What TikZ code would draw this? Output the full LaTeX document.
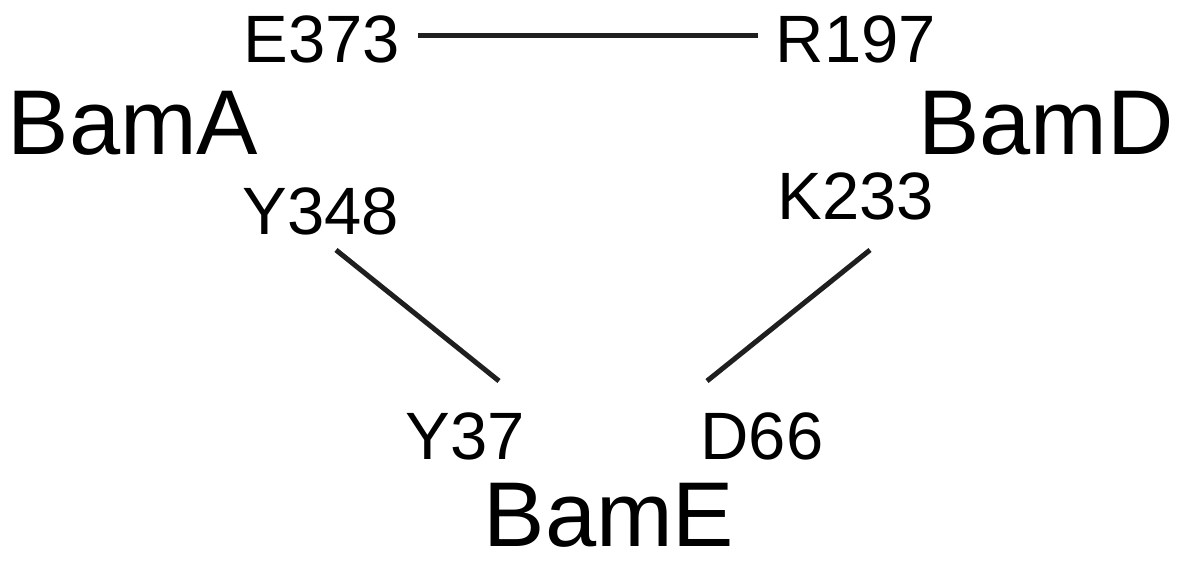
\documentclass[tikz,border=0pt]{standalone}
\usepackage{fontspec}
\setmainfont{Liberation Sans}
\tikzset{
  res/.style={inner sep=0pt, anchor=base, font=\fontsize{67}{70}\selectfont},
  prot/.style={inner sep=0pt, anchor=base, font=\fontsize{92}{95}\selectfont},
  link/.style={line width=5pt, black!88}
}
\begin{document}
\begin{tikzpicture}[x=1pt,y=1pt]
\useasboundingbox (0,0) rectangle (1185,561);
\node[res] (E373) at (322,498) {E373};
\node[res] (R197) at (856,498) {R197};
\node[prot] (BamA) at (133,406) {BamA};
\node[prot] (BamD) at (1046,406) {BamD};
\node[res] (Y348) at (321,326) {Y348};
\node[res] (K233) at (856,341) {K233};
\node[res] (Y37) at (465,101) {Y37};
\node[res] (D66) at (762,101) {D66};
\node[prot] (BamE) at (609,14) {BamE};
\coordinate (a1) at (418,525);
\coordinate (a2) at (758,525);
\coordinate (b1) at (336,311);
\coordinate (b2) at (499,180);
\coordinate (c1) at (870,311);
\coordinate (c2) at (707,180);
\draw[link] (a1) -- (a2);
\draw[link] (b1) -- (b2);
\draw[link] (c1) -- (c2);
\end{tikzpicture}
\end{document}
